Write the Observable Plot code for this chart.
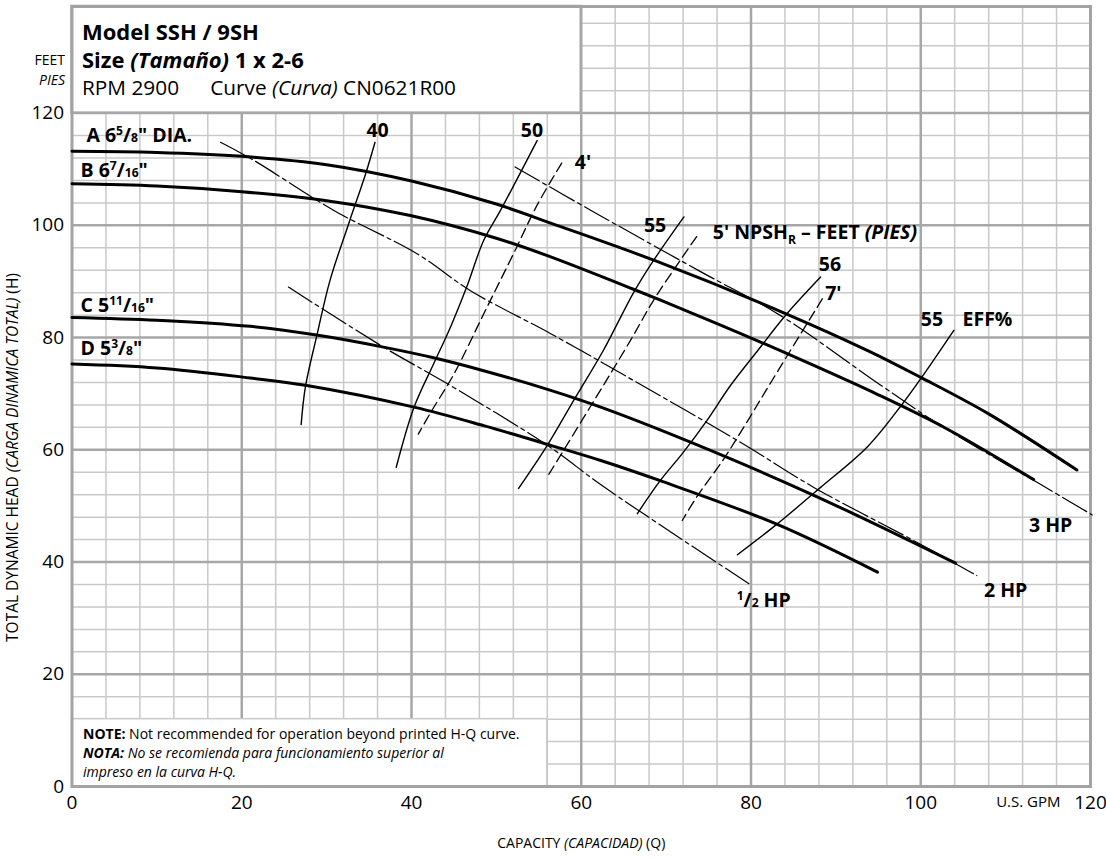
<!DOCTYPE html>
<html><head><meta charset="utf-8">
<script src="https://cdn.jsdelivr.net/npm/d3@7"></script>
<script src="https://cdn.jsdelivr.net/npm/@observablehq/plot@0.6"></script>
<style>
body{margin:0;background:#fff;}
svg{font-family:"Open Sans",sans-serif;}
</style></head><body>
<script>
// ---------- axes / grid ----------
const xTicks = [0, 20, 40, 60, 80, 100, 120];
const yTicks = [0, 20, 40, 60, 80, 100, 120];
const xMajor = [20, 40, 60, 80, 100];
const yMajor = [20, 40, 60, 80, 100, 120];
const xMinor = [4,8,12,16,24,28,32,36,44,48,52,56,64,68,72,76,84,88,92,96,104,108,112,116];
const yMinor = [4,8,12,16,24,28,32,36,44,48,52,56,64,68,72,76,84,88,92,96,104,108,112,116,124,128,132,136];

// ---------- H-Q curves (gpm, feet) ----------
const curveA = [[0,113.2],[10,113.0],[20,112.3],[30,110.8],[40,107.9],[50,103.8],[56.4,100.4],[68.7,93.7],[84.2,84.2],[94,77.5],[100,72.9],[108,66.4],[118.4,56.4]];
const curveB = [[0,107.4],[10,107.0],[20,106.0],[30,104.4],[40,101.7],[50,97.7],[56,94.6],[66,88.7],[76,82.5],[84,77.3],[95,69.8],[103,63.8],[113.3,54.7]];
const curveC = [[0,83.6],[10,83.1],[21,82.0],[29,80.4],[36.7,78.3],[42.6,76.4],[48.5,74.1],[56.4,70.6],[62.3,67.6],[72.8,61.4],[87.4,51.9],[104.1,39.8]];
const curveD = [[0,75.3],[10,74.6],[21,72.8],[27.5,71.5],[40.3,67.6],[48.5,64.3],[56.4,60.8],[62.3,58.1],[69.3,54.5],[83.1,46.7],[94.9,38.2]];

// ---------- efficiency curves ----------
const eff40 = [[35.7,114.8],[34.6,109.2],[32.6,100.3],[30.4,90.2],[28.9,80.7],[27.5,71.2],[27.0,64.5]];
const eff50 = [[54.8,115.1],[50.5,102.7],[48.5,97.3],[46.5,89.0],[44.6,81.9],[42.6,75.3],[40.3,67.6],[38.2,56.9]];
const eff55a = [[72.1,101.5],[68.5,93.7],[66.2,88.1],[62.6,77.7],[59.3,69.3],[56.0,60.8],[52.6,53.1]];
const eff56 = [[88.2,90.8],[84.2,84.2],[80.8,77.7],[77.6,71.5],[74.8,65.2],[72.0,59.5],[69.3,54.5],[66.6,48.6]];
const eff55b = [[103.9,81.3],[100.1,72.9],[97.7,67.9],[93.7,60.5],[88.2,53.3],[83.1,46.8],[78.4,41.3]];

// ---------- NPSHr curves ----------
const npsh4 = [[57.7,111.1],[54.8,103.6],[52.1,95.2],[48.5,84.2],[45.0,73.5],[42.4,67.0],[40.8,62.8]];
const npsh5 = [[73.6,98.0],[71.9,94.3],[68.5,86.6],[65.8,79.5],[61.0,67.5],[56.0,55.2]];
const npsh7 = [[88.4,86.9],[82.5,72.4],[79.5,64.9],[76.8,58.4],[73.6,51.6],[71.9,47.4]];

// ---------- horsepower lines ----------
const hpHalf = [[25.5,89.0],[36.7,78.3],[44.2,71.8],[56.0,60.8],[62.2,53.9],[70.9,45.0],[80.1,35.8]];
const hp2 = [[17.5,114.8],[21.4,111.6],[30.8,102.7],[40.7,94.9],[46.9,88.4],[56.4,80.7],[66.1,72.4],[78.7,61.4],[87.4,53.3],[99.2,43.8],[106.6,37.6]];
const hp3 = [[52.2,110.4],[61.1,102.7],[74.0,91.8],[83.4,84.0],[95.2,71.6],[102.7,64.0],[113.7,54.2],[120.2,48.4]];

// ---------- labels (anchor in gpm / feet) ----------
const diaLabels = [
  {x:1.7, y:116.0, text:'A 6^{5}/~{8}" DIA.'},
  {x:1.0, y:109.7, text:'B 6^{7}/~{16}"'},
  {x:1.0, y:85.7,  text:'C 5^{11}/~{16}"'},
  {x:1.0, y:78.0,  text:'D 5^{3}/~{8}"'}
];
const effLabels = [
  {x:36.0, y:116.9, text:"40"},
  {x:54.2, y:116.9, text:"50"},
  {x:68.7, y:100.0, text:"55"},
  {x:89.3, y:92.9,  text:"56"}
];
const effTitle = [{x:100.0, y:83.2, text:"55\u2002\u2002EFF%"}];
const npshLabels = [
  {x:60.2, y:111.2, text:"4'"},
  {x:89.7, y:87.8,  text:"7'"}
];
const npshTitle = [{x:75.5, y:98.6, text:"5' NPSH_{R} \u2013 FEET ***(PIES)***"}];
const hpLabels = [
  {x:81.5,  y:33.1, text:"^{1}/~{2} HP"},
  {x:110.0, y:34.9, text:"2 HP"},
  {x:115.3, y:46.5, text:"3 HP"}
];

// ---------- texts ----------
const titleLines = ["Model SSH / 9SH", "Size *(Tamaño)* 1 x 2-6", "RPM 2900\u2003\u2002Curve *(Curva)* CN0621R00"];
const noteLines = ["**NOTE:** Not recommended for operation beyond printed H-Q curve.",
                   "***NOTA:*** *No se recomienda para funcionamiento superior al*",
                   "*impreso en la curva H-Q.*"];
const unitFeet = ["FEET", "*PIES*"];
const unitGpm = "U.S. GPM";
const xTitle = "CAPACITY *(CAPACIDAD)* (Q)";
const yTitle = "TOTAL DYNAMIC HEAD *(CARGA DINAMICA TOTAL)* (H)";

// boxes (gpm / feet extents)
const titleBox = [{x1:0, x2:60, y1:120, y2:139}];
const noteBox = [{x1:0, x2:56, y1:0, y2:12}];

const P = d => d[0], Q = d => d[1];
const majorC = "#a7a7a7", minorC = "#c9c9c9";
const LBL = 19.5;

const line = (data, o) => Plot.line(data, {x:P, y:Q, stroke:"black", curve:"catmull-rom", ...o});
const txt = (data, o) => Plot.text(data, {lineAnchor:"middle", ...o});

const fig = Plot.plot({
  width:1106, height:858,
  marginLeft:71.5, marginRight:16, marginTop:6, marginBottom:72,
  style:{fontFamily:"'Open Sans', sans-serif", fontSize:"19px", background:"white", color:"black", overflow:"visible"},
  x:{domain:[0,120], ticks:xTicks, tickSize:0, tickPadding:9, label:null},
  y:{domain:[0,139], ticks:yTicks, tickSize:0, tickPadding:8, label:null},
  marks:[
    Plot.ruleX(xMinor, {stroke:minorC, strokeWidth:1.5}),
    Plot.ruleY(yMinor, {stroke:minorC, strokeWidth:1.5}),
    Plot.ruleX(xMajor, {stroke:majorC, strokeWidth:2.5}),
    Plot.ruleY(yMajor, {stroke:majorC, strokeWidth:2.5}),
    Plot.rect(noteBox, {x1:"x1", x2:"x2", y1:"y1", y2:"y2", fill:"white", stroke:minorC, strokeWidth:1.5}),
    Plot.rect(titleBox, {x1:"x1", x2:"x2", y1:"y1", y2:"y2", fill:"white", stroke:majorC, strokeWidth:2.5}),
    Plot.frame({stroke:"#a3a3a3", strokeWidth:3}),
    // HP lines
    line(hpHalf, {strokeWidth:1.2, strokeDasharray:"28,4,4,4"}),
    line(hp2, {strokeWidth:1.2, strokeDasharray:"28,4,4,4"}),
    line(hp3, {strokeWidth:1.2, strokeDasharray:"28,4,4,4"}),
    // NPSH
    line(npsh4, {strokeWidth:1.3, strokeDasharray:"10,5"}),
    line(npsh5, {strokeWidth:1.3, strokeDasharray:"10,5"}),
    line(npsh7, {strokeWidth:1.3, strokeDasharray:"10,5"}),
    // efficiency
    line(eff40, {strokeWidth:1.4}),
    line(eff50, {strokeWidth:1.4}),
    line(eff55a, {strokeWidth:1.4}),
    line(eff56, {strokeWidth:1.4}),
    line(eff55b, {strokeWidth:1.4}),
    // H-Q
    line(curveA, {strokeWidth:3}),
    line(curveB, {strokeWidth:3}),
    line(curveC, {strokeWidth:3}),
    line(curveD, {strokeWidth:3}),
    // labels
    txt(diaLabels, {x:"x", y:"y", text:"text", textAnchor:"start", fontWeight:"bold", fontSize:LBL, ariaLabel:"lbl"}),
    txt(effLabels, {x:"x", y:"y", text:"text", fontWeight:"bold", fontSize:LBL, ariaLabel:"lbl"}),
    txt(effTitle, {x:"x", y:"y", text:"text", textAnchor:"start", fontWeight:"bold", fontSize:LBL, ariaLabel:"lbl"}),
    txt(npshLabels, {x:"x", y:"y", text:"text", fontWeight:"bold", fontSize:LBL, ariaLabel:"lbl"}),
    txt(npshTitle, {x:"x", y:"y", text:"text", textAnchor:"start", fontWeight:"bold", fontSize:LBL, ariaLabel:"lbl"}),
    txt(hpLabels, {x:"x", y:"y", text:"text", fontWeight:"bold", fontSize:LBL, ariaLabel:"lbl"}),
    // title block
    txt([titleLines[0]], {frameAnchor:"top-left", textAnchor:"start", dx:10, dy:26, fontSize:22, fontWeight:"bold"}),
    txt([titleLines[1]], {frameAnchor:"top-left", textAnchor:"start", dx:10, dy:54, fontSize:22, fontWeight:"bold"}),
    txt([titleLines[2]], {frameAnchor:"top-left", textAnchor:"start", dx:10, dy:81.5, fontSize:20.8}),
    txt([unitFeet[0]], {frameAnchor:"top-left", textAnchor:"end", dx:-7, dy:54, fontSize:14}),
    txt([unitFeet[1]], {frameAnchor:"top-left", textAnchor:"end", dx:-7, dy:74, fontSize:14}),
    // note
    txt([noteLines[0]], {frameAnchor:"bottom-left", textAnchor:"start", dx:11, dy:-52, fontSize:14}),
    txt([noteLines[1]], {frameAnchor:"bottom-left", textAnchor:"start", dx:11, dy:-33, fontSize:14}),
    txt([noteLines[2]], {frameAnchor:"bottom-left", textAnchor:"start", dx:11, dy:-14, fontSize:14}),
    // axis titles
    txt([unitGpm], {frameAnchor:"bottom-right", textAnchor:"end", dx:-30, dy:16, fontSize:15}),
    txt([xTitle], {frameAnchor:"bottom", textAnchor:"middle", dy:57, fontSize:14}),
    txt([yTitle], {frameAnchor:"left", textAnchor:"middle", rotate:-90, dx:-59, dy:61, fontSize:15.5})
  ]
});
document.body.appendChild(fig);

// rich-text: **bold**, *italic*, ***both***, ^{sup}, _{sub}, ~{small}
const NS = "http://www.w3.org/2000/svg";
function richify(el){
  const raw = el.textContent;
  if(!/\*|\^\{|_\{|~\{/.test(raw)) return;
  const fs = parseFloat(getComputedStyle(el).fontSize);
  const parts = raw.split(/(\*\*\*.+?\*\*\*|\*\*.+?\*\*|\*.+?\*|\^\{.*?\}|_\{.*?\}|~\{.*?\})/).filter(s => s.length);
  el.textContent = "";
  let off = 0;
  for(const p of parts){
    const ts = document.createElementNS(NS, "tspan");
    let t = p, target = 0;
    if(p.startsWith("***")){t = p.slice(3,-3); ts.setAttribute("font-weight","bold"); ts.setAttribute("font-style","italic");}
    else if(p.startsWith("**")){t = p.slice(2,-2); ts.setAttribute("font-weight","bold");}
    else if(p.startsWith("*")){t = p.slice(1,-1); ts.setAttribute("font-style","italic");}
    else if(p.startsWith("^{")){t = p.slice(2,-1); ts.setAttribute("font-size",(fs*0.62)+"px"); target = -0.36*fs;}
    else if(p.startsWith("_{")){t = p.slice(2,-1); ts.setAttribute("font-size",(fs*0.62)+"px"); target = 0.22*fs;}
    else if(p.startsWith("~{")){t = p.slice(2,-1); ts.setAttribute("font-size",(fs*0.62)+"px"); target = 0;}
    if(target !== off){ts.setAttribute("dy", (target-off)+"px"); off = target;}
    ts.textContent = t;
    el.appendChild(ts);
  }
}
fig.querySelectorAll("text").forEach(richify);
// white label backgrounds
fig.querySelectorAll('g[aria-label="lbl"] text').forEach(el => {
  const bb = el.getBBox();
  const r = document.createElementNS(NS, "rect");
  r.setAttribute("x", bb.x-3); r.setAttribute("y", bb.y-1);
  r.setAttribute("width", bb.width+6); r.setAttribute("height", bb.height+2);
  r.setAttribute("fill", "white");
  if(el.getAttribute("transform")) r.setAttribute("transform", el.getAttribute("transform"));
  el.parentNode.insertBefore(r, el);
});
</script>
</body></html>
